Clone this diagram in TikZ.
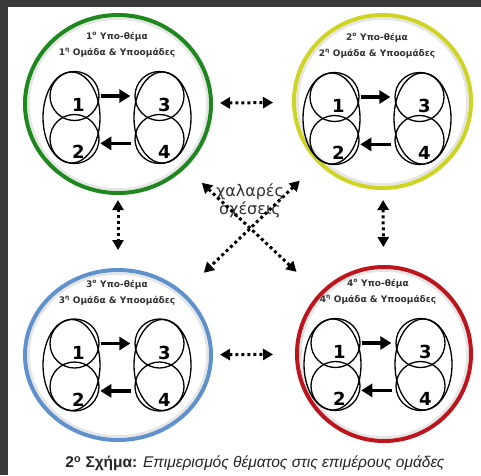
\documentclass[tikz,border=0pt]{standalone}
\usepackage{fontspec}
\setmainfont{DejaVu Sans}
\newfontfamily\capfont{Liberation Sans}
\usepackage{tikz}
\usetikzlibrary{arrows.meta, shapes.geometric}
\definecolor{ringgreen}{RGB}{30,135,30}
\definecolor{ringyellow}{RGB}{205,212,35}
\definecolor{ringblue}{RGB}{95,145,205}
\definecolor{ringred}{RGB}{190,20,28}
\definecolor{framegray}{RGB}{58,58,58}
\definecolor{txt}{RGB}{50,50,50}

\begin{document}
\begin{tikzpicture}[x=1pt, y=-1pt,
      ring/.style={ellipse, draw=#1, line width=4pt, inner sep=0pt},
      pair/.style={ellipse, draw, line width=1.3pt, minimum width=57pt, minimum height=91pt, inner sep=0pt},
      sub/.style={circle, draw, line width=1.3pt, minimum size=49pt, inner sep=0pt},
      num/.style={font=\bfseries\fontsize{18}{18}\selectfont},
      title/.style={font=\bfseries\fontsize{9}{16}\selectfont, text=txt, align=center},
      flow/.style={-{Triangle[length=11pt,width=13pt]}, line width=3.6pt},
      loose/.style={{Triangle[length=10pt,width=11pt]}-{Triangle[length=10pt,width=11pt]},
        line width=3pt, dash pattern=on 3pt off 3pt}]
      \fill[framegray] (0,0) rectangle (481,475);
      \fill[white] (8,7) rectangle (481,475);
      \foreach \n/\c/\cx/\cy/\w/\h/\gx/\gy in {
        1/ringgreen/118/104/186/178/117/117.5,
        2/ringyellow/382.5/101.5/177/173/377/118.5,
        3/ringblue/118/355/186/170/117/365,
        4/ringred/384/354/174/174/378/364.5}{
        \draw[black!10, line width=2.5pt] (\cx,\cy) ellipse [x radius=\w/2-3.5, y radius=\h/2-3.5];
        \node[ring=\c, minimum width=\w pt, minimum height=\h pt] (r\n) at (\cx,\cy) {};
        \node[title] (t\n) at (\gx,\gy-72.5)
          {\n\textsuperscript{ο} Υπο-θέμα\\\n\textsuperscript{η} Ομάδα \& Υποομάδες};
        \node[pair] (L\n) at (\gx-45.5,\gy) {};
        \node[pair] (R\n) at (\gx+45.5,\gy) {};
        \node[sub] (g\n-1) at (\gx-42.5,\gy-21.5) {};
        \node[sub] (g\n-2) at (\gx-42.5,\gy+21.5) {};
        \node[sub] (g\n-3) at (\gx+42.5,\gy-21.5) {};
        \node[sub] (g\n-4) at (\gx+42.5,\gy+21.5) {};
        \node[num] (n\n-1) at ([shift={(4,9)}]g\n-1) {1};
        \node[num] (n\n-2) at ([shift={(4,13)}]g\n-2) {2};
        \node[num] (n\n-3) at ([shift={(5,9)}]g\n-3) {3};
        \node[num] (n\n-4) at ([shift={(5,13)}]g\n-4) {4};
        \draw[flow, shorten <=1pt, shorten >=4pt] (g\n-1) -- (g\n-3);
        \draw[flow, shorten <=4pt, shorten >=1pt] (g\n-4.190) -- (g\n-2.350);
      }
      \node[font=\fontsize{16}{18}\selectfont, text=txt, align=center] (rel) at (250,201) {χαλαρές\\σχέσεις};
      \draw[loose, shorten <=7pt, shorten >=19pt] (r1) -- (r2);
      \draw[loose, shorten <=7pt, shorten >=22pt] (r3) -- (r4);
      \draw[loose, shorten <=5pt, shorten >=18pt] (r1) -- (r3);
      \draw[loose, shorten <=10pt, shorten >=18pt] (r2) -- (r4);
      \draw[loose, shorten <=22pt, shorten >=31pt] (r1) -- (r4);
      \draw[loose, shorten <=25pt, shorten >=28pt] (r2) -- (r3);
      \node[font=\capfont\fontsize{15.5}{17}\selectfont, text=black!85] (cap) at (255,463)
        {\textbf{2\textsuperscript{ο} Σχήμα:} \textit{Επιμερισμός θέματος στις επιμέρους ομάδες}};
    \end{tikzpicture}
\end{document}
